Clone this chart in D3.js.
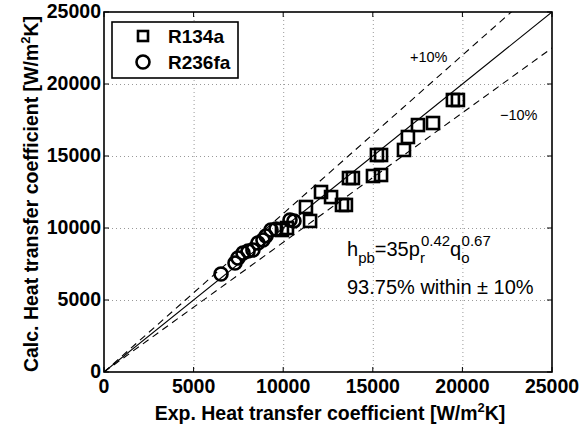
<!DOCTYPE html>
<html>
<head>
<meta charset="utf-8">
<script src="https://cdn.jsdelivr.net/npm/d3@7"></script>
<style>
  body { margin: 0; background: #fff; }
  svg { font-family: "Liberation Sans", Arial, sans-serif; }
</style>
</head>
<body>
<svg id="chart" width="581" height="430"></svg>
<script>
// R134a points [exp, calc]
var r134aExp  = [9930, 10210, 11270, 11500, 12110, 12670, 13280, 13500, 13670, 13890, 15010, 15460, 15230, 15460, 16740, 16960, 17520, 18360, 19470, 19750];
var r134aCalc = [9860, 10000, 11460, 10490, 12500, 12150, 11600, 11600, 13470, 13470, 13610, 13680, 15070, 15070, 15420, 16320, 17150, 17290, 18890, 18890];
// R236fa points [exp, calc]
var r236Exp  = [6530, 7310, 7480, 7760, 8040, 8310, 8590, 8870, 9040, 9320, 9600, 10380, 10600];
var r236Calc = [6805, 7570, 7920, 8260, 8400, 8470, 8960, 9170, 9440, 9860, 9930, 10560, 10490];
var tickValues = [0, 5000, 10000, 15000, 20000, 25000];
var bandFactors = [1.1, 0.9];

var svg = d3.select("#chart");
var pLeft = 104, pRight = 552, pTop = 12, pBottom = 372;

var x = d3.scaleLinear().domain([0, 25000]).range([pLeft, pRight]);
var y = d3.scaleLinear().domain([0, 25000]).range([pBottom, pTop]);

svg.append("defs").append("clipPath").attr("id", "clip")
  .append("rect").attr("x", pLeft).attr("y", pTop)
  .attr("width", pRight - pLeft).attr("height", pBottom - pTop);

// grid
var grid = svg.append("g").attr("stroke", "#999").attr("stroke-width", 1)
  .attr("stroke-dasharray", "1,3");
tickValues.slice(1, -1).forEach(function(t) {
  grid.append("line").attr("x1", x(t) + 0.5).attr("x2", x(t) + 0.5)
    .attr("y1", pTop).attr("y2", pBottom);
  grid.append("line").attr("y1", y(t) + 0.5).attr("y2", y(t) + 0.5)
    .attr("x1", pLeft).attr("x2", pRight);
});

// lines
var plot = svg.append("g").attr("clip-path", "url(#clip)");
plot.append("line")
  .attr("x1", x(0)).attr("y1", y(0)).attr("x2", x(25000)).attr("y2", y(25000))
  .attr("stroke", "#000").attr("stroke-width", 1.1);
bandFactors.forEach(function(f) {
  plot.append("line")
    .attr("x1", x(0)).attr("y1", y(0)).attr("x2", x(25000)).attr("y2", y(25000 * f))
    .attr("stroke", "#000").attr("stroke-width", 1.1).attr("stroke-dasharray", "7,5");
});

// markers
var squares = r134aExp.map(function(d, i) { return [d, r134aCalc[i]]; });
var circles = r236Exp.map(function(d, i) { return [d, r236Calc[i]]; });
var s = 12;
plot.selectAll("rect.sq").data(squares).enter().append("rect")
  .attr("class", "sq")
  .attr("x", function(d) { return x(d[0]) - s / 2; })
  .attr("y", function(d) { return y(d[1]) - s / 2; })
  .attr("width", s).attr("height", s)
  .attr("fill", "none").attr("stroke", "#000").attr("stroke-width", 2.6);
plot.selectAll("circle.ci").data(circles).enter().append("circle")
  .attr("class", "ci")
  .attr("cx", function(d) { return x(d[0]); })
  .attr("cy", function(d) { return y(d[1]); })
  .attr("r", 6.5)
  .attr("fill", "none").attr("stroke", "#000").attr("stroke-width", 2.6);

// frame and inner ticks
svg.append("rect").attr("x", pLeft).attr("y", pTop)
  .attr("width", pRight - pLeft).attr("height", pBottom - pTop)
  .attr("fill", "none").attr("stroke", "#000").attr("stroke-width", 1.6);
var ticks = svg.append("g").attr("stroke", "#000").attr("stroke-width", 1);
tickValues.forEach(function(t) {
  ticks.append("line").attr("x1", x(t)).attr("x2", x(t)).attr("y1", pBottom).attr("y2", pBottom - 5);
  ticks.append("line").attr("x1", x(t)).attr("x2", x(t)).attr("y1", pTop).attr("y2", pTop + 5);
  ticks.append("line").attr("y1", y(t)).attr("y2", y(t)).attr("x1", pLeft).attr("x2", pLeft + 5);
  ticks.append("line").attr("y1", y(t)).attr("y2", y(t)).attr("x1", pRight).attr("x2", pRight - 5);
});

// tick labels
svg.append("g").selectAll("text").data(tickValues).enter().append("text")
  .attr("x", function(d) { return x(d); }).attr("y", pBottom + 21)
  .attr("text-anchor", "middle").attr("font-size", 19.5).attr("font-weight", "bold")
  .text(function(d) { return d; });
svg.append("g").selectAll("text").data(tickValues).enter().append("text")
  .attr("x", pLeft - 3).attr("y", function(d) { return y(d) + 6; })
  .attr("text-anchor", "end").attr("font-size", 19.5).attr("font-weight", "bold")
  .text(function(d) { return d; });

// axis titles
var xt = svg.append("text").attr("x", (pLeft + pRight) / 2 + 2).attr("y", 420)
  .attr("text-anchor", "middle").attr("font-size", 19.5).attr("font-weight", "bold");
xt.append("tspan").text("Exp. Heat transfer coefficient [W/m");
xt.append("tspan").attr("dy", -8).attr("font-size", 13).text("2");
xt.append("tspan").attr("dy", 8).text("K]");

var yt = svg.append("text")
  .attr("transform", "translate(38," + ((pTop + pBottom) / 2 + 2) + ") rotate(-90)")
  .attr("text-anchor", "middle").attr("font-size", 19.5).attr("font-weight", "bold");
yt.append("tspan").text("Calc. Heat transfer coefficient [W/m");
yt.append("tspan").attr("dy", -8).attr("font-size", 13).text("2");
yt.append("tspan").attr("dy", 8).text("K]");

// band labels
svg.append("text").attr("x", 410).attr("y", 62).attr("font-size", 14.5).text("+10%");
svg.append("text").attr("x", 500).attr("y", 120).attr("font-size", 14.5).text("\u221210%");

// correlation text
var f = svg.append("text").attr("x", 347).attr("y", 256).attr("font-size", 20);
f.append("tspan").text("h");
f.append("tspan").attr("dy", 7).attr("font-size", 15).text("pb");
f.append("tspan").attr("dy", -7).text("=35p");
f.append("tspan").attr("dy", 7).attr("font-size", 15).text("r");
f.append("tspan").attr("dx", -4).attr("dy", -17).attr("font-size", 15).text("0.42");
f.append("tspan").attr("dy", 10).text("q");
f.append("tspan").attr("dy", 7).attr("font-size", 15).text("o");
f.append("tspan").attr("dx", -8).attr("dy", -17).attr("font-size", 15).text("0.67");
svg.append("text").attr("x", 347).attr("y", 294).attr("font-size", 20)
  .text("93.75% within \u00b1 10%");

// legend
var lg = svg.append("g");
lg.append("rect").attr("x", 112).attr("y", 22).attr("width", 126).attr("height", 56)
  .attr("fill", "#fff").attr("stroke", "#000").attr("stroke-width", 1.6);
lg.append("rect").attr("x", 143 - 5).attr("y", 36 - 5).attr("width", 10).attr("height", 10)
  .attr("fill", "none").attr("stroke", "#000").attr("stroke-width", 2.6);
lg.append("circle").attr("cx", 143).attr("cy", 62).attr("r", 6.5)
  .attr("fill", "none").attr("stroke", "#000").attr("stroke-width", 2.6);
lg.append("text").attr("x", 168).attr("y", 43).attr("font-size", 19).attr("font-weight", "bold").text("R134a");
lg.append("text").attr("x", 168).attr("y", 69).attr("font-size", 19).attr("font-weight", "bold").text("R236fa");
</script>
</body>
</html>
